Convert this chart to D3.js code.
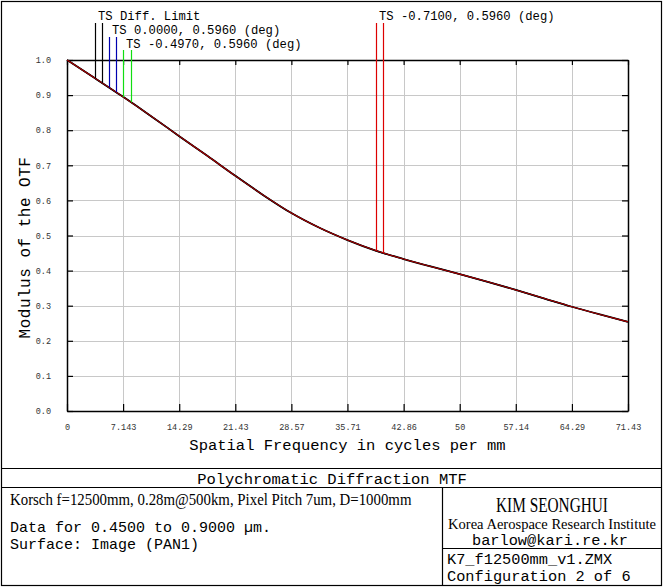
<!DOCTYPE html>
<html><head><meta charset="utf-8">
<script src="https://cdn.jsdelivr.net/npm/d3@7"></script>
<style>body{margin:0;background:#fff}svg{display:block}</style>
</head><body>
<script>
// ---- data ----
const freqs = [0, 3.571, 7.143, 10.71, 14.29, 17.86, 21.43, 25.00, 28.57, 32.14, 35.71, 39.29, 42.86, 46.43, 50.00, 53.57, 57.14, 60.71, 64.29, 67.86, 71.43];
const mtfDiff = [1.000, 0.948, 0.895, 0.840, 0.783, 0.727, 0.670, 0.615, 0.564, 0.522, 0.487, 0.457, 0.433, 0.411, 0.390, 0.368, 0.345, 0.321, 0.297, 0.275, 0.254];
const mtfTS0 = [1.000, 0.948, 0.895, 0.840, 0.783, 0.727, 0.670, 0.615, 0.564, 0.522, 0.487, 0.457, 0.433, 0.411, 0.390, 0.368, 0.345, 0.321, 0.297, 0.275, 0.254];
const mtfTS497 = [1.000, 0.948, 0.895, 0.840, 0.783, 0.727, 0.670, 0.615, 0.564, 0.522, 0.487, 0.457, 0.433, 0.411, 0.390, 0.368, 0.345, 0.321, 0.297, 0.275, 0.254];
const mtfTS710 = [1.000, 0.948, 0.895, 0.840, 0.783, 0.727, 0.670, 0.615, 0.564, 0.522, 0.487, 0.457, 0.433, 0.411, 0.390, 0.368, 0.345, 0.321, 0.297, 0.275, 0.254];
const seriesNames = ["TS Diff. Limit", "TS 0.0000, 0.5960 (deg)", "TS -0.4970, 0.5960 (deg)", "TS -0.7100, 0.5960 (deg)"];
const seriesColors = ["#000000", "#0000b0", "#11dd11", "#dd0000"];
const markerFreqs = [[3.57, 4.46], [5.35, 6.24], [7.19, 8.15], [39.34, 40.23]];
const xTickValues = [0, 7.143, 14.29, 21.43, 28.57, 35.71, 42.86, 50, 57.14, 64.29, 71.43];
const xTickLabels = ["0", "7.143", "14.29", "21.43", "28.57", "35.71", "42.86", "50", "57.14", "64.29", "71.43"];
const yTickValues = [0, 0.1, 0.2, 0.3, 0.4, 0.5, 0.6, 0.7, 0.8, 0.9, 1.0];
const yTickLabels = ["0.0", "0.1", "0.2", "0.3", "0.4", "0.5", "0.6", "0.7", "0.8", "0.9", "1.0"];
const seriesData = [mtfDiff, mtfTS0, mtfTS497, mtfTS710];

// ---- drawing ----
const W = 664, H = 588;
const svg = d3.select("body").append("svg").attr("width", W).attr("height", H);
const MONO = "'Liberation Mono','DejaVu Sans Mono',monospace";
const SERIF = "'Liberation Serif','DejaVu Serif',serif";

const L = 67, R = 628, T = 60, B = 411;
const x = d3.scaleLinear().domain([0, 71.43]).range([L, R]);
const y = d3.scaleLinear().domain([0, 1]).range([B, T]);

// outer frame
svg.append("rect").attr("x", 1.5).attr("y", 1.5).attr("width", 660).attr("height", 584)
  .attr("fill", "none").attr("stroke", "#000").attr("stroke-width", 1.2);

// grid
const g = svg.append("g");
g.selectAll(".vg").data(xTickValues.slice(1, -1)).join("line")
  .attr("x1", d => Math.round(x(d)) + 0.5).attr("x2", d => Math.round(x(d)) + 0.5)
  .attr("y1", T).attr("y2", B).attr("stroke", "#c8c8c8").attr("stroke-width", 1);
g.selectAll(".hg").data(yTickValues.slice(1, -1)).join("line")
  .attr("y1", d => Math.round(y(d)) + 0.5).attr("y2", d => Math.round(y(d)) + 0.5)
  .attr("x1", L).attr("x2", R).attr("stroke", "#c8c8c8").attr("stroke-width", 1);

// axes (ticks inward on all four sides)
const fmtX = (d, i) => xTickLabels[i];
const bottomAxis = d3.axisBottom(x).tickValues(xTickValues).tickFormat(fmtX).tickSizeInner(-7).tickSizeOuter(0).tickPadding(13);
const gb = svg.append("g").attr("transform", `translate(0,${B})`).call(bottomAxis);
const topAxis = d3.axisTop(x).tickValues(xTickValues).tickFormat("").tickSizeInner(-5).tickSizeOuter(0);
const gt = svg.append("g").attr("transform", `translate(0,${T})`).call(topAxis);
const leftAxis = d3.axisLeft(y).tickValues(yTickValues).tickFormat((d, i) => yTickLabels[i]).tickSizeInner(-6).tickSizeOuter(0).tickPadding(16);
const gl = svg.append("g").attr("transform", `translate(${L},0)`).call(leftAxis);
const rightAxis = d3.axisRight(y).tickValues(yTickValues).tickFormat("").tickSizeInner(-6).tickSizeOuter(0);
const gr = svg.append("g").attr("transform", `translate(${R},0)`).call(rightAxis);
[gb, gt, gl, gr].forEach(a => {
  a.select(".domain").attr("stroke", "#000").attr("stroke-width", 1.5);
  a.selectAll(".tick line").attr("stroke", "#000").attr("stroke-width", 1.2);
  a.selectAll("text").attr("font-family", MONO).attr("font-size", 8.5).attr("fill", "#333");
});

// curves (drawn so the black and red traces dominate, as in the reference)
const line = d3.line().x((d, i) => x(freqs[i])).y(d => y(d)).curve(d3.curveMonotoneX);
[2, 1, 0, 3].forEach(k => {
  svg.append("path").datum(seriesData[k]).attr("d", line).attr("fill", "none")
    .attr("stroke", seriesColors[k])
    .attr("stroke-width", k === 0 ? 1.8 : (k === 3 ? 1.1 : 1.2))
    .attr("opacity", k === 3 ? 0.75 : 1);
});

// legend marker lines
const interp = (s, f) => {
  const i = d3.bisectRight(freqs, f) - 1;
  const t = (f - freqs[i]) / (freqs[i + 1] - freqs[i]);
  return s[i] + t * (s[i + 1] - s[i]);
};
const markerTop = [23, 37, 50, 23];
const labelPos = [[98, 20], [112, 34], [126, 48], [379, 20]];
markerFreqs.forEach((pair, k) => {
  pair.forEach(f => {
    svg.append("line").attr("x1", Math.round(x(f)) + 0.5).attr("x2", Math.round(x(f)) + 0.5)
      .attr("y1", markerTop[k]).attr("y2", y(interp(seriesData[k], f)))
      .attr("stroke", seriesColors[k]).attr("stroke-width", 1.2);
  });
  svg.append("text").attr("x", labelPos[k][0]).attr("y", labelPos[k][1])
    .attr("font-family", MONO).attr("font-size", 12.2).attr("fill", "#000").text(seriesNames[k]);
});

// axis titles
svg.append("text").attr("x", (L + R) / 2).attr("y", 450).attr("text-anchor", "middle")
  .attr("font-family", MONO).attr("font-size", 15.5).text("Spatial Frequency in cycles per mm");
svg.append("text").attr("transform", `translate(30,${(T + B) / 2 + 12}) rotate(-90)`).attr("text-anchor", "middle")
  .attr("font-family", MONO).attr("font-size", 16).attr("letter-spacing", 0.5).text("Modulus of the OTF");

// info block
const ln = (x1, y1, x2, y2) => svg.append("line").attr("x1", x1).attr("y1", y1).attr("x2", x2).attr("y2", y2)
  .attr("stroke", "#000").attr("stroke-width", 1.2);
ln(1, 468.5, 662, 468.5);
ln(1, 487.5, 662, 487.5);
ln(442.5, 487.5, 442.5, 586);
ln(442.5, 548.5, 662, 548.5);

const txt = (s, x0, y0, fam, size, anchor, sx) => {
  const t = svg.append("text").attr("font-family", fam).attr("font-size", size).attr("fill", "#000").text(s);
  if (sx) {
    t.attr("transform", `translate(${x0},${y0}) scale(${sx},1)`).attr("text-anchor", anchor || "start");
  } else {
    t.attr("x", x0).attr("y", y0).attr("text-anchor", anchor || "start");
  }
  return t;
};
txt("Polychromatic Diffraction MTF", 332, 484, MONO, 15.5, "middle");
txt("Korsch f=12500mm, 0.28m@500km, Pixel Pitch 7um, D=1000mm", 10, 505, SERIF, 16.5, "start", 0.9);
txt("Data for 0.4500 to 0.9000 µm.", 10, 532, MONO, 15);
txt("Surface: Image (PAN1)", 10, 549, MONO, 15);
txt("KIM SEONGHUI", 552, 512, SERIF, 21, "middle", 0.73);
txt("Korea Aerospace Research Institute", 552, 529, SERIF, 15, "middle", 0.97);
txt("barlow@kari.re.kr", 550, 545, MONO, 15.3, "middle");
txt("K7_f12500mm_v1.ZMX", 447, 564, MONO, 15.3);
txt("Configuration 2 of 6", 447, 581, MONO, 15.3);
</script>
</body></html>
